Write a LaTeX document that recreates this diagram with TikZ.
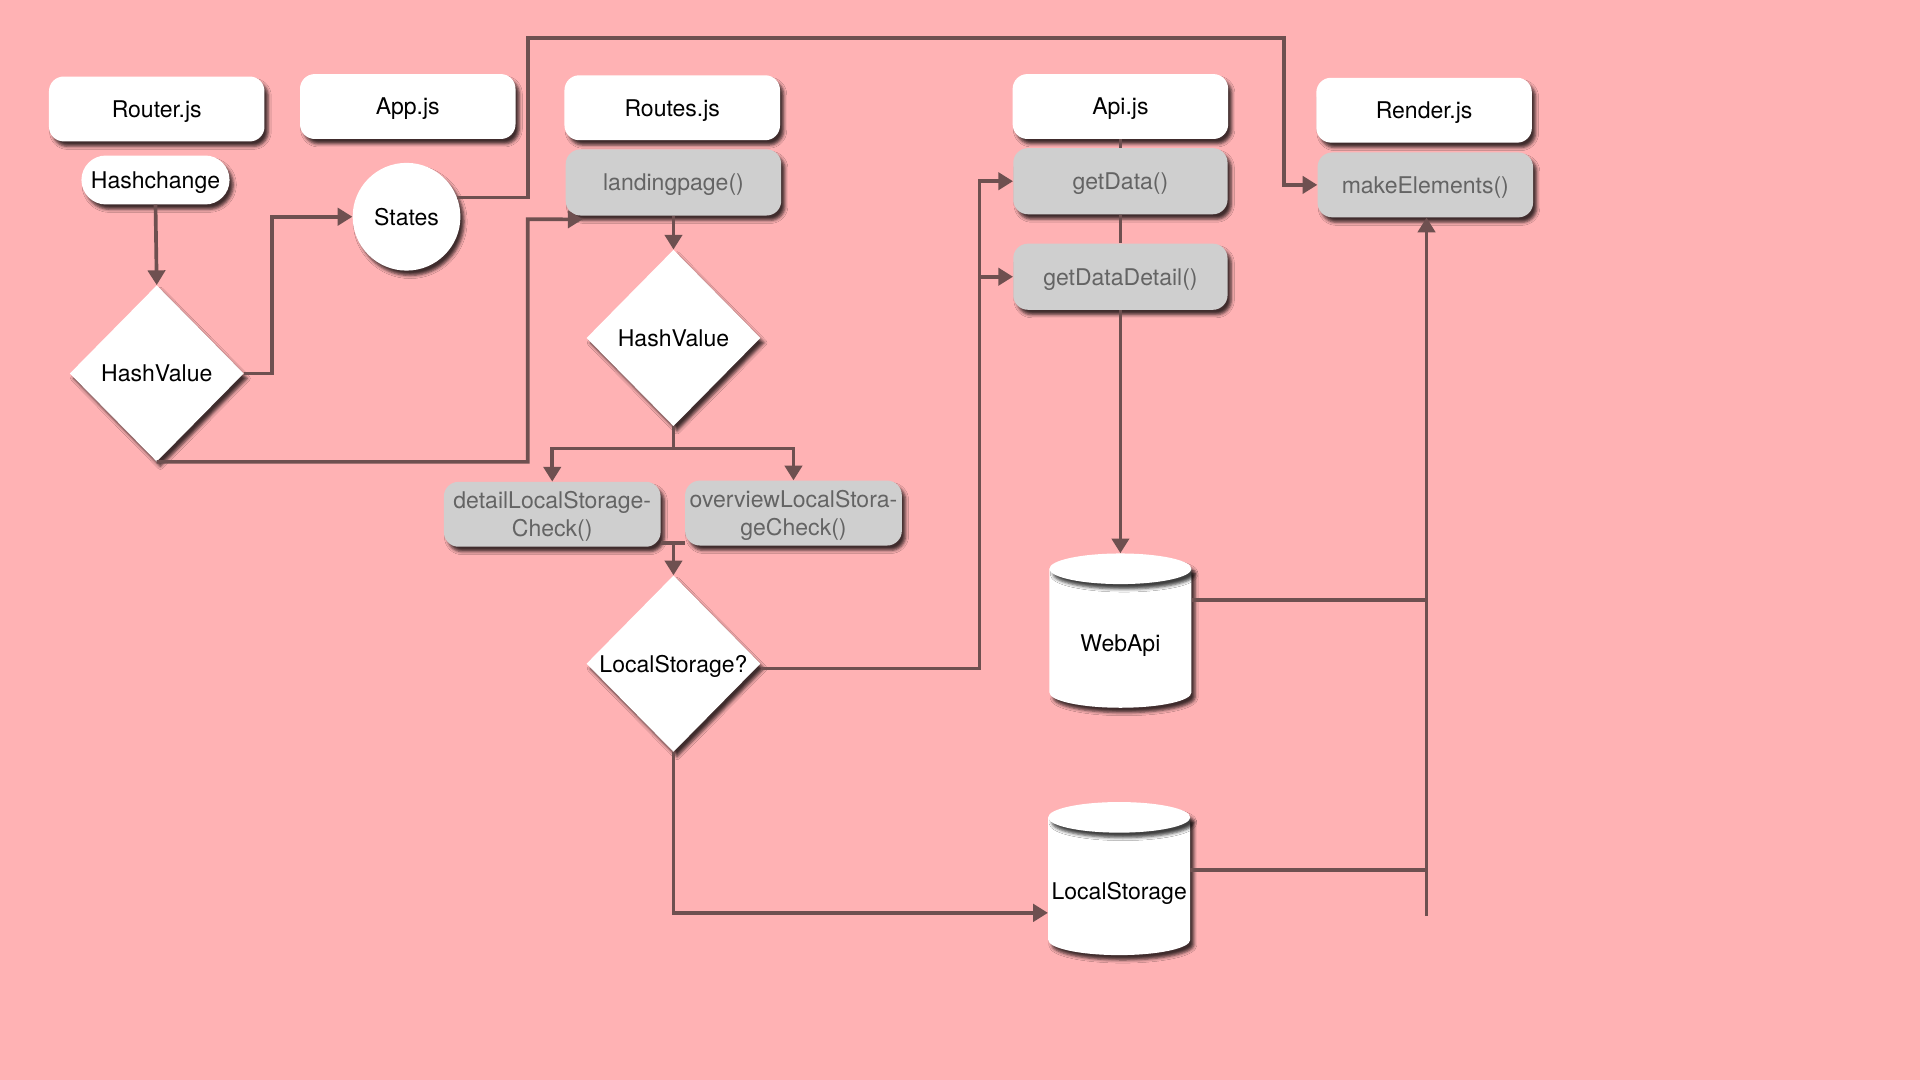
\documentclass[tikz,border=0pt]{standalone}
\usepackage{fontspec}
\setmainfont{TeX Gyre Heros}
\usetikzlibrary{shapes.geometric,arrows.meta,shadows.blur,calc}
\definecolor{bg}{RGB}{255,178,180}
\definecolor{ln}{RGB}{110,80,80}
\definecolor{gbox}{RGB}{207,207,207}
\definecolor{gtext}{RGB}{100,100,100}
\begin{document}
\begin{tikzpicture}[x=1pt,y=-1pt,
 shd/.style={blur shadow={shadow xshift=3pt,shadow yshift=-4pt,shadow blur radius=2.5pt,shadow opacity=75}},
 txt/.style={font=\fontsize{18.8}{23}\selectfont,text depth=0pt},
 title/.style={shd,rectangle,rounded corners=12pt,fill=white,minimum width=176pt,minimum height=53pt,txt,text=black,inner sep=0pt,align=center},
 func/.style={title,fill=gbox,text=gtext},
 dia/.style={shd,diamond,fill=white,inner sep=0pt,minimum width=142pt,minimum height=144pt},
 conn/.style={draw=ln,line width=3pt},
 arr/.style={conn,-{Triangle[length=12pt,width=14pt]}},
 lbl/.style={txt,text=black}
]
\fill[bg] (0,0) rectangle (1568,882);
\useasboundingbox (0,0) rectangle (1568,882);

% header boxes
\node[title] (router) at (128,89) {Router.js};
\node[title] (app) at (333,87) {App.js};
\node[title] (routes) at (549,88) {Routes.js};
\node[title] (api) at (915,87) {Api.js};
\node[title] (render) at (1163,90) {Render.js};

% other nodes
\node[title,minimum width=121pt,minimum height=40pt,rounded corners=20pt] (hc) at (127,147) {Hashchange};
\node[shd,circle,fill=white,minimum size=88pt,inner sep=0pt,lbl] (st) at (332,177) {States};
\node[func,minimum height=54pt] (lp) at (550,149) {landingpage()};
\node[func,minimum width=175pt,minimum height=54pt] (gd) at (915,148) {getData()};
\node[func,minimum width=175pt,minimum height=54pt] (gdd) at (915,226) {getDataDetail()};
\node[func] (me) at (1164,151) {makeElements()};
\node[dia,label={[lbl]center:HashValue}] (hv1) at (128,305) {};
\node[dia,label={[lbl]center:HashValue}] (hv2) at (550,276) {};
\node[func,minimum width=177pt] (dl) at (451,420) {detailLocalStorage-\\Check()};
\node[func,minimum width=177pt] (ov) at (648,419) {overviewLocalStora-\\geCheck()};
\node[dia,label={[lbl]center:LocalStorage?}] (lsq) at (550,542) {};

% cylinders
\fill[white,shd] (857,464.5) -- (857,565.5) arc[start angle=180,end angle=360,x radius=58pt,y radius=12.5pt] -- (973,464.5) -- cycle;
\fill[white,shd] (915,464.5) ellipse[x radius=58pt,y radius=12.5pt];
\node[minimum width=116pt,minimum height=126pt,inner sep=0pt,label={[lbl,yshift=-10pt]center:WebApi}] (wa) at (915,515) {};

\fill[white,shd] (856,667.5) -- (856,767.5) arc[start angle=180,end angle=360,x radius=58pt,y radius=12.5pt] -- (972,667.5) -- cycle;
\fill[white,shd] (914,667.5) ellipse[x radius=58pt,y radius=12.5pt];
\node[minimum width=116pt,minimum height=125pt,inner sep=0pt,label={[lbl,yshift=-10pt]center:LocalStorage}] (lsdb) at (914,717.5) {};

% connectors
\coordinate (bus) at (800,0);
\coordinate (vb) at (1165,748);
\draw[arr] (hc.south) -- (hv1.north);
\draw[arr] (hv1.east) -- ++(23,0) |- (st.west);
\draw[arr] (hv1.south) -| (431,179) -- ([xshift=14pt,yshift=-3pt]lp.south west);
\draw[arr] (st.21) -| (431,31) -| ([xshift=-27pt]me.west) -- (me.west);
\draw[arr] (lp.south) -- (hv2.north);
\draw[arr] (hv2.south) -- ++(0,18) -| (dl.north);
\draw[arr] (hv2.south) -- ++(0,18) -| (ov.north);
\draw[conn] ([yshift=3pt]dl.south east) coordinate (j1) -- (j1 -| ov.south west);
\draw[arr] (j1 -| lsq.north) -- (lsq.north);
\draw[arr] ([yshift=-4pt]lsq.east) -| (bus |- gd.west) -- (gd.west);
\draw[arr] (bus |- gdd.west) -- (gdd.west);
\draw[arr] (lsq.south) |- ([yshift=-28pt]lsdb.west);
\draw[conn] (api.south) -- (gd.north);
\draw[conn] (gd.south) -- (gdd.north);
\draw[arr] (gdd.south) -- (wa.north);
\draw[conn] ([yshift=25pt]wa.east) coordinate (j2) -- (j2 -| vb);
\draw[conn] ([yshift=7pt]lsdb.east) coordinate (j3) -- (j3 -| vb);
\draw[arr] (vb) -- (vb |- me.south);
\end{tikzpicture}
\end{document}
